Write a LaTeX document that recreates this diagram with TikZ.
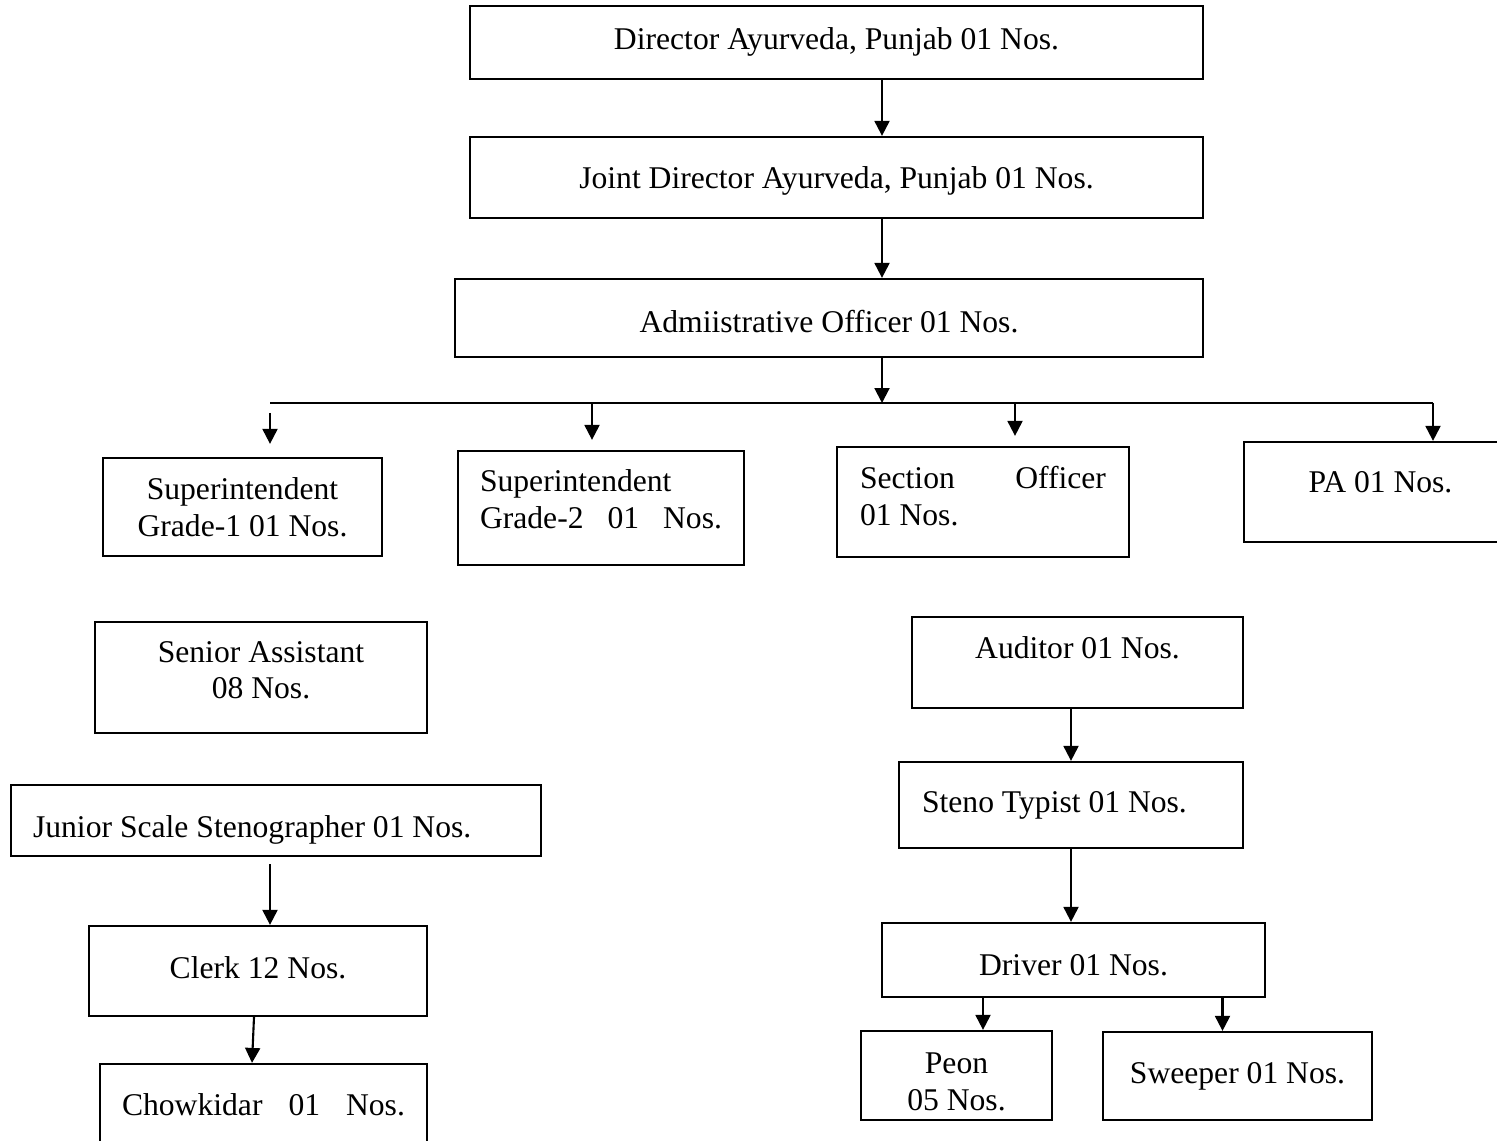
\documentclass[tikz,border=0pt]{standalone}
\usepackage{fontspec}
\setmainfont{Liberation Serif}
\usetikzlibrary{arrows.meta}

\begin{document}
\begin{tikzpicture}[x=0.02cm, y=-0.02cm,
    post/.style={draw, line width=1.3pt, inner sep=2pt, font=\fontsize{18}{21}\selectfont},
    single/.style={text height=#1, text depth=4pt},
    single/.default=12pt,
    link/.style={line width=1.2pt, -{Triangle[length=8.5pt, width=8.5pt]}}]
    \useasboundingbox (0,0) rectangle (1497,1141);
    % Top of the chain
    \node[post, single, minimum width=14.66cm, minimum height=1.46cm] (dir) at (836.5,42.5) {Director Ayurveda, Punjab 01 Nos.};
    \node[post, single=17pt, minimum width=14.66cm, minimum height=1.62cm] (joint) at (836.5,177.5) {Joint Director Ayurveda, Punjab 01 Nos.};
    \node[post, single=20pt, minimum width=14.96cm, minimum height=1.56cm] (admin) at (829,318) {Admiistrative Officer 01 Nos.};
    % Second row
    \node[post, align=center, minimum width=5.58cm, minimum height=1.96cm] (supone) at (242.5,507) {Superintendent\\Grade-1 01 Nos.};
    \node[post, align=flush left, text width=4.84cm, inner xsep=0.44cm, minimum height=2.28cm] (suptwo) at (601,508) {Superintendent\\Grade-2\hfill 01\hfill Nos.\rule[-0.36cm]{0pt}{0pt}};
    \node[post, align=flush left, text width=4.92cm, inner xsep=0.46cm, minimum height=2.2cm] (sec) at (983,502) {Section\hfill Officer\\01 Nos.\rule[-0.26cm]{0pt}{0pt}};
    \node[post, single=5pt, minimum width=5.46cm, minimum height=2cm] (pa) at (1380.5,492) {PA 01 Nos.};
    % Left column
    \node[post, align=center, minimum width=6.64cm, minimum height=2.22cm] (senior) at (261,677.5) {Senior Assistant\\08 Nos.\rule[-0.3cm]{0pt}{0pt}};
    \node[post, single=23pt, align=flush left, text width=9.72cm, inner xsep=0.44cm, minimum height=1.42cm] (junior) at (276,820.5) {Junior Scale Stenographer 01 Nos.};
    \node[post, single, minimum width=6.76cm, minimum height=1.8cm] (clerk) at (258,971) {Clerk 12 Nos.};
    \node[post, single, align=flush left, text width=5.66cm, minimum width=6.54cm, minimum height=1.76cm] (chow) at (263.5,1108) {Chowkidar\hfill 01\hfill Nos.};
    % Right column
    \node[post, single=0pt, minimum width=6.62cm, minimum height=1.82cm] (aud) at (1077.5,662.5) {Auditor 01 Nos.};
    \node[post, single, align=flush left, text width=5.96cm, inner xsep=0.46cm, minimum height=1.72cm] (steno) at (1071,805) {Steno Typist 01 Nos.};
    \node[post, single=22pt, minimum width=7.66cm, minimum height=1.48cm] (driver) at (1073.5,960) {Driver 01 Nos.};
    \node[post, align=center, minimum width=3.82cm, minimum height=1.78cm] (peon) at (956.5,1075.5) {\rule{0pt}{0.68cm}Peon\\05 Nos.};
    \node[post, single, minimum width=5.38cm, minimum height=1.76cm] (sweep) at (1237.5,1076) {Sweeper 01 Nos.};
    % Branch points
    \coordinate (spine) at (882,403);
    \coordinate (barL) at (270,403);
    \coordinate (barR) at (1433,403);
    \coordinate (tsup) at (592,403);
    \coordinate (tsec) at (1015,403);
    \coordinate (tchow) at ([xshift=-0.23cm]chow.north);
    \coordinate (tpeon) at ([xshift=0.53cm]peon.north);
    \coordinate (tsweep) at ([xshift=-0.3cm]sweep.north);
    % Arrows
    \draw[link] (dir.south -| spine) -- (joint.north -| spine);
    \draw[link] (joint.south -| spine) -- (admin.north -| spine);
    \draw[link] (admin.south -| spine) -- (spine);
    \draw[line width=1.2pt] (barL) -- (barR);
    \draw[link, shorten <=0.2cm, shorten >=0.26cm] (barL) -- (barL |- supone.north);
    \draw[link, shorten >=0.2cm] (tsup) -- (tsup |- suptwo.north);
    \draw[link, shorten >=0.2cm] (tsec) -- (tsec |- sec.north);
    \draw[link] (barR) -- (barR |- pa.north);
    \draw[link, shorten <=0.14cm] (junior.south -| barL) -- (clerk.north -| barL);
    \draw[link] ([xshift=-0.08cm]clerk.south) -- (tchow);
    \draw[link] (aud.south -| steno.north) -- (steno.north);
    \draw[link] (steno.south) -- (steno.south |- driver.north);
    \draw[link] (tpeon |- driver.south) -- (tpeon);
    \draw[link] (tsweep |- driver.south) -- (tsweep);
\end{tikzpicture}
\end{document}
